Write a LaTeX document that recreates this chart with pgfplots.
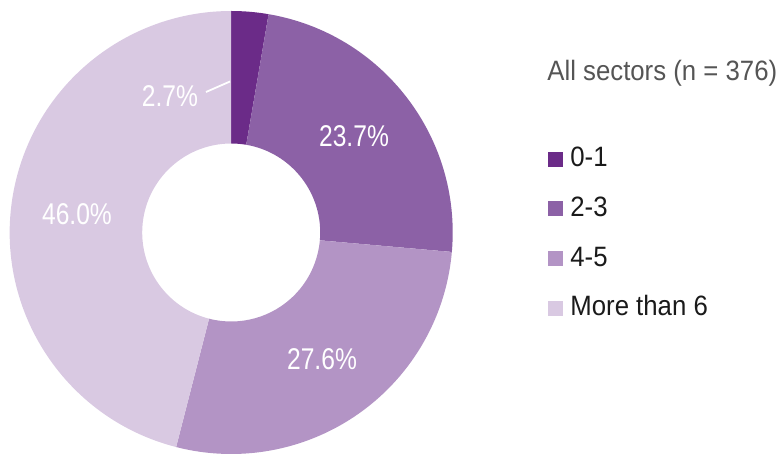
\documentclass[border=0pt]{standalone}
\usepackage{pgfplots}
\usepackage{pgfplotstable}
\pgfplotsset{compat=1.18}
\usepackage{fontspec}
\setmainfont[FakeStretch=0.92]{Liberation Sans}
\newfontfamily\labfont[FakeStretch=0.82]{Liberation Sans}
\definecolor{c0}{RGB}{107,43,136}
\definecolor{c1}{RGB}{140,97,166}
\definecolor{c2}{RGB}{179,148,197}
\definecolor{c3}{RGB}{217,201,226}
\definecolor{titlegray}{RGB}{85,85,85}
\definecolor{legtext}{RGB}{26,26,26}

\pgfplotstableread{
label value
0-1 2.7
2-3 23.7
4-5 27.6
{More than 6} 46.0
}\donutdata

\begin{document}
\begin{tikzpicture}
\begin{axis}[scale only axis, width=389.5pt, height=227.5pt,
  xmin=0, xmax=779, ymin=0, ymax=455, hide axis, clip=false]
\def\cum{90}
\pgfplotsforeachungrouped \i in {0,...,3}{%
  \pgfplotstablegetelem{\i}{value}\of\donutdata
  \pgfmathsetmacro\start{\cum}%
  \pgfmathsetmacro\stop{\cum-3.6*\pgfplotsretval}%
  \edef\cmd{\noexpand\fill[c\i] ([shift={(\start:110.75pt)}]axis cs:231.2,222.5) arc[start angle=\start,end angle=\stop,radius=110.75pt] -- ([shift={(\stop:44.5pt)}]axis cs:231.2,222.5) arc[start angle=\stop,end angle=\start,radius=44.5pt] -- cycle;}%
  \cmd
  \global\let\cum\stop
}
% percent labels
\draw[white, line width=0.9pt] (axis cs:206,363) -- (axis cs:230,373.5);
\node[white, font=\labfont\fontsize{15pt}{17pt}\selectfont] at (axis cs:170,359) {2.7\%};
\node[white, font=\labfont\fontsize{15pt}{17pt}\selectfont] at (axis cs:354,319) {23.7\%};
\node[white, font=\labfont\fontsize{15pt}{17pt}\selectfont] at (axis cs:77,240.5) {46.0\%};
\node[white, font=\labfont\fontsize{15pt}{17pt}\selectfont] at (axis cs:322,96) {27.6\%};
% title
\node[anchor=base west, inner sep=0pt, text=titlegray, font=\fontsize{14pt}{16pt}\selectfont] at (axis cs:547,374) {All sectors (n = 376)};
% legend
\fill[c0] (axis cs:548,288) rectangle (axis cs:563,303);
\fill[c1] (axis cs:548,238.5) rectangle (axis cs:563,253.5);
\fill[c2] (axis cs:548,189) rectangle (axis cs:563,204);
\fill[c3] (axis cs:548,139.5) rectangle (axis cs:563,154.5);
\node[anchor=base west, inner sep=0pt, text=legtext, font=\fontsize{14pt}{16pt}\selectfont] at (axis cs:570,288) {0-1};
\node[anchor=base west, inner sep=0pt, text=legtext, font=\fontsize{14pt}{16pt}\selectfont] at (axis cs:570,238.5) {2-3};
\node[anchor=base west, inner sep=0pt, text=legtext, font=\fontsize{14pt}{16pt}\selectfont] at (axis cs:570,189) {4-5};
\node[anchor=base west, inner sep=0pt, text=legtext, font=\fontsize{14pt}{16pt}\selectfont] at (axis cs:570,139.5) {More than 6};
\end{axis}
\pgfresetboundingbox
\useasboundingbox (0,0) rectangle (389.5pt,227.5pt);
\end{tikzpicture}
\end{document}
